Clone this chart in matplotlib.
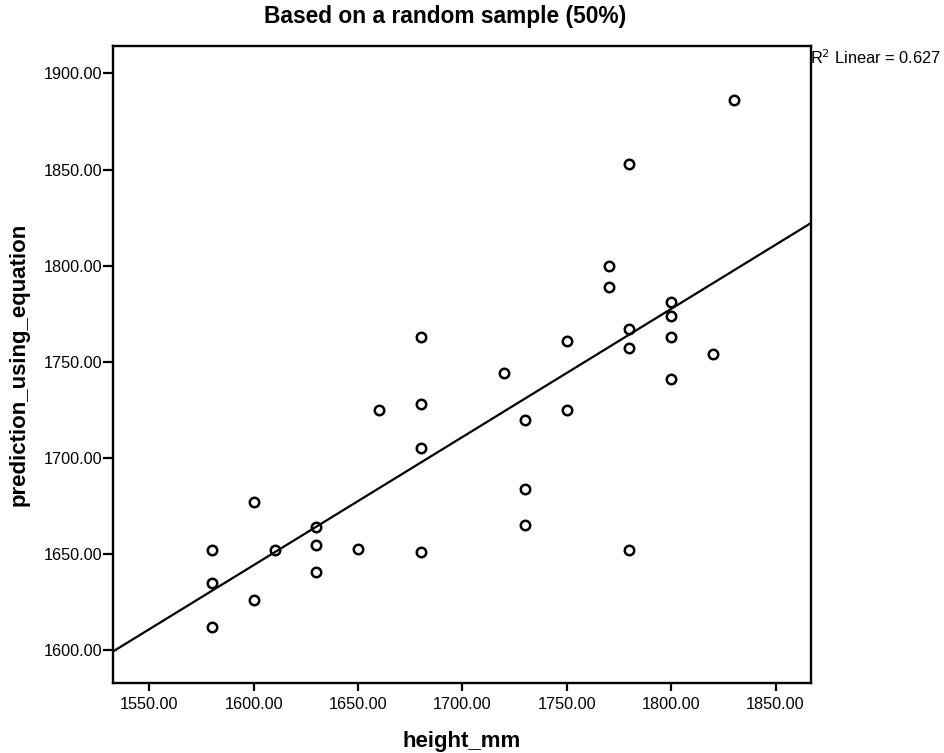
import numpy as np
import matplotlib
matplotlib.use('Agg')
import matplotlib.pyplot as plt

plt.rcParams['font.family'] = ['Liberation Sans', 'DejaVu Sans']

# observed heights and the values predicted by the equation
height_mm = [1580, 1580, 1580, 1600, 1600, 1610, 1630, 1630, 1630, 1650,
             1660, 1680, 1680, 1680, 1680, 1720, 1730, 1730, 1730, 1750,
             1750, 1770, 1770, 1780, 1780, 1780, 1780, 1800, 1800, 1800,
             1800, 1820, 1830]
prediction = [1652, 1635, 1612, 1677, 1626, 1652, 1664, 1655, 1641, 1653,
              1725, 1763, 1728, 1705, 1651, 1744, 1720, 1684, 1665, 1761,
              1725, 1800, 1789, 1853, 1767, 1757, 1652, 1781, 1774, 1763,
              1741, 1754, 1886]
r2_linear = 0.627

x_ticks = [1550, 1600, 1650, 1700, 1750, 1800, 1850]
y_ticks = [1600, 1650, 1700, 1750, 1800, 1850, 1900]


def main():
    x = np.array(height_mm, dtype=float)
    y = np.array(prediction, dtype=float)
    slope, intercept = np.polyfit(x, y, 1)

    fig = plt.figure(figsize=(9.45, 7.53), dpi=100)
    ax = fig.add_axes([113 / 945, 1 - 683 / 753, 698 / 945, 637 / 753])

    xlim = (1532.6, 1867.0)
    ax.set_xlim(*xlim)
    ax.set_ylim(1583.1, 1914.2)

    # fit line runs across the whole plot area
    xs = np.array(xlim)
    ax.plot(xs, intercept + slope * xs, color='black', linewidth=1.6,
            solid_capstyle='butt', zorder=2)
    ax.plot(x, y, 'o', markerfacecolor='none', markeredgecolor='black',
            markersize=6.8, markeredgewidth=1.8, zorder=3)

    ax.set_xticks(x_ticks)
    ax.set_yticks(y_ticks)
    ax.set_xticklabels([f'{v:.2f}' for v in x_ticks])
    ax.set_yticklabels([f'{v:.2f}' for v in y_ticks])
    ax.tick_params(axis='x', direction='out', length=6, width=1.6,
                   labelsize=11.7, pad=4)
    ax.tick_params(axis='y', direction='out', length=7, width=1.6,
                   labelsize=11.7, pad=1)
    for s in ax.spines.values():
        s.set_linewidth(1.7)

    ax.set_xlabel('height_mm', fontsize=16, fontweight='bold', labelpad=14)
    ax.set_ylabel('prediction_using_equation', fontsize=16,
                  fontweight='bold', labelpad=10)

    fig.text(445 / 945, 1 - 17 / 753, 'Based on a random sample (50%)',
             ha='center', va='center', fontsize=16.4, fontweight='bold')
    fig.text(810 / 945, 1 - 58 / 753, f'R$^2$ Linear = {r2_linear:.3f}',
             ha='left', va='center', fontsize=11.8)

    fig.savefig('out.png', dpi=100)


if __name__ == '__main__':
    main()
